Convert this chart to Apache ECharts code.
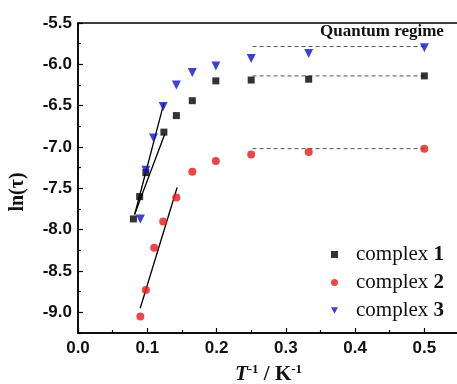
<!DOCTYPE html>
<html><head><meta charset="utf-8">
<script src="https://cdn.jsdelivr.net/npm/echarts@6/dist/echarts.min.js"></script>
<style>html,body{margin:0;padding:0;background:#fff}#c{width:457px;height:384px}</style>
</head><body><div id="c"></div>
<script>
// ---- data ----
const c1x = [0.080, 0.089, 0.098, 0.124, 0.142, 0.165, 0.199, 0.250, 0.333, 0.500];
const c1y = [-7.87, -7.60, -7.31, -6.82, -6.62, -6.44, -6.20, -6.19, -6.18, -6.14];
const c2x = [0.090, 0.098, 0.110, 0.123, 0.142, 0.165, 0.199, 0.250, 0.333, 0.500];
const c2y = [-9.05, -8.73, -8.22, -7.90, -7.61, -7.30, -7.17, -7.09, -7.06, -7.02];
const c3x = [0.090, 0.098, 0.109, 0.123, 0.142, 0.165, 0.199, 0.250, 0.333, 0.500];
const c3y = [-7.87, -7.28, -6.89, -6.51, -6.25, -6.10, -6.02, -5.93, -5.87, -5.80];
const fit1 = [[0.0815, -7.82], [0.125, -6.85]];
const fit2 = [[0.0898, -8.95], [0.1431, -7.49]];
const fit3 = [[0.082, -7.81], [0.124, -6.47]];
const quantumX = [0.252, 0.500];
const quantum1 = -6.14, quantum2 = -7.02, quantum3 = -5.785;
const yMajor = [-9.0, -8.5, -8.0, -7.5, -7.0, -6.5, -6.0, -5.5];
const yMinor = [-9.25, -8.75, -8.25, -7.75, -7.25, -6.75, -6.25, -5.75];
const names = ['complex 1', 'complex 2', 'complex 3'];

const zip = (xs, ys) => xs.map((x, i) => [x, ys[i]]);
const flat = (y) => quantumX.map(x => [x, y]);

const chart = echarts.init(document.getElementById('c'), null, {renderer: 'canvas'});
const axisFont = {fontFamily: 'Liberation Sans, Arial, sans-serif', fontWeight: 'bold', fontSize: 17, color: '#111'};
const serif = 'Liberation Serif, Times New Roman, serif';
const fitStyle = {color: '#000', width: 1.3};
const dashStyle = {color: '#555', width: 1, type: [4, 3]};
const C1 = '#000', C2 = '#e81818', C3 = '#1010c8';

chart.setOption({
  animation: false,
  grid: {left: 78, top: 23, width: 381, height: 310, outerBoundsMode: 'none', containLabel: false,
         show: true, borderColor: '#000', borderWidth: 1.5, backgroundColor: 'transparent'},
  xAxis: {
    type: 'value', min: 0, max: 0.55, interval: 0.1,
    axisLine: {show: true, onZero: false, lineStyle: {color: '#000', width: 1.5}},
    axisTick: {show: true, inside: true, length: 5, lineStyle: {color: '#000', width: 1.2}},
    minorTick: {show: true, splitNumber: 2, length: 3, lineStyle: {color: '#000', width: 1.2}},
    splitLine: {show: false},
    axisLabel: Object.assign({margin: 7, showMaxLabel: false, formatter: v => v.toFixed(1)}, axisFont),
    name: '{t|T}{s|-1}{n| / K}{s|-1}', nameLocation: 'middle', nameGap: 30,
    nameTextStyle: {
      rich: {
        t: {fontFamily: serif, fontWeight: 'bold', fontStyle: 'italic', fontSize: 21, color: '#111', lineHeight: 24},
        n: {fontFamily: serif, fontWeight: 'bold', fontSize: 21, color: '#111', lineHeight: 24},
        s: {fontFamily: serif, fontWeight: 'bold', fontSize: 13, color: '#111', verticalAlign: 'top', lineHeight: 24, padding: [0, 0, 10, 0]}
      }
    }
  },
  yAxis: [{
    type: 'value', min: -9.25, max: -5.5,
    axisLine: {show: true, onZero: false, lineStyle: {color: '#000', width: 1.5}},
    axisTick: {show: true, inside: true, length: 5, customValues: yMajor, lineStyle: {color: '#000', width: 1.2}},
    splitLine: {show: false},
    axisLabel: Object.assign({margin: 6, customValues: yMajor, formatter: v => v.toFixed(1)}, axisFont)
  }, {
    type: 'value', min: -9.25, max: -5.5, position: 'left',
    axisLine: {show: false},
    axisTick: {show: true, inside: true, length: 3, customValues: yMinor, lineStyle: {color: '#000', width: 1.2}},
    axisLabel: {show: false}, splitLine: {show: false}
  }],
  legend: {
    data: [
      {name: names[0], icon: 'rect'},
      {name: names[1], icon: 'circle'},
      {name: names[2], icon: 'path://M0,0L10,0L5,9Z'}
    ],
    orient: 'vertical', left: 326, top: 239, itemGap: 7,
    itemWidth: 7, itemHeight: 7,
    formatter: n => '{a|complex }{b|' + n.split(' ')[1] + '}',
    textStyle: {rich: {
      a: {fontFamily: serif, fontSize: 21, color: '#111', padding: [0, 0, 0, 13]},
      b: {fontFamily: serif, fontSize: 21, fontWeight: 'bold', color: '#111'}
    }}
  },
  graphic: [
    {type: 'text', left: 320, top: 23, style: {text: 'Quantum regime', font: 'bold 17px ' + serif, fill: '#111'}},
    {type: 'text', x: 8, y: 192, rotation: Math.PI / 2, style: {text: 'ln(τ)', font: 'bold 20px ' + serif, fill: '#111', align: 'center', verticalAlign: 'top'}}
  ],
  series: [
    {type: 'line', data: flat(quantum3), symbol: 'none', lineStyle: dashStyle, silent: true, z: 1},
    {type: 'line', data: flat(quantum1), symbol: 'none', lineStyle: dashStyle, silent: true, z: 1},
    {type: 'line', data: flat(quantum2), symbol: 'none', lineStyle: dashStyle, silent: true, z: 1},
    {type: 'line', data: fit1, symbol: 'none', lineStyle: fitStyle, silent: true, z: 1},
    {type: 'line', data: fit2, symbol: 'none', lineStyle: fitStyle, silent: true, z: 1},
    {type: 'line', data: fit3, symbol: 'none', lineStyle: fitStyle, silent: true, z: 1},
    {name: names[0], type: 'scatter', data: zip(c1x, c1y), symbol: 'rect', symbolSize: 7, itemStyle: {color: C1}, z: 3},
    {name: names[1], type: 'scatter', data: zip(c2x, c2y), symbol: 'circle', symbolSize: 8, itemStyle: {color: C2}, z: 3},
    {name: names[2], type: 'scatter', data: zip(c3x, c3y), symbol: 'triangle', symbolRotate: 180, symbolSize: 9, itemStyle: {color: C3}, z: 3}
  ]
});
</script></body></html>
